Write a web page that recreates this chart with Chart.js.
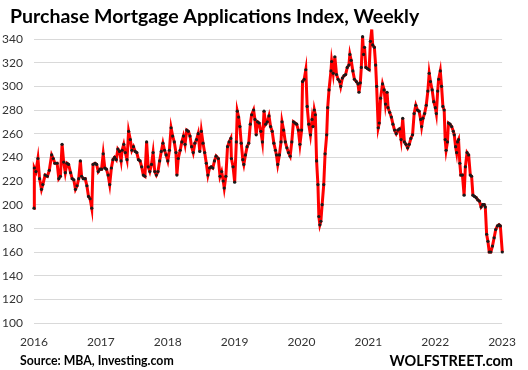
<!DOCTYPE html>
<html>
<head>
<meta charset="utf-8">
<script src="https://cdn.jsdelivr.net/npm/chart.js@4.4.1/dist/chart.umd.min.js"></script>
<style>
  html, body { margin: 0; padding: 0; background: #fff; }
</style>
</head>
<body>
<canvas id="mortgage" width="528" height="370"></canvas>
<script>
const title = "Purchase Mortgage Applications Index, Weekly";
const source = "Source: MBA, Investing.com";
const brand = "WOLFSTREET.com";
const yearTicks = [2016, 2017, 2018, 2019, 2020, 2021, 2022, 2023];
const indexTicks = [100, 120, 140, 160, 180, 200, 220, 240, 260, 280, 300, 320, 340];

// week dates as decimal years
const weeks = [
  2016.000, 2016.005, 2016.029, 2016.059, 2016.083, 2016.112, 2016.132, 2016.166, 2016.200, 2016.229,
  2016.264, 2016.288, 2016.312, 2016.346, 2016.371, 2016.395, 2016.420, 2016.444, 2016.468, 2016.493,
  2016.517, 2016.547, 2016.571, 2016.595, 2016.620, 2016.644, 2016.669, 2016.693, 2016.712, 2016.737,
  2016.766, 2016.791, 2016.815, 2016.839, 2016.864, 2016.883, 2016.913, 2016.937, 2016.961, 2016.986,
  2017.010, 2017.035, 2017.059, 2017.083, 2017.108, 2017.132, 2017.157, 2017.181, 2017.205, 2017.230,
  2017.254, 2017.279, 2017.303, 2017.318, 2017.342, 2017.366, 2017.391, 2017.415, 2017.440, 2017.464,
  2017.488, 2017.513, 2017.537, 2017.562, 2017.586, 2017.610, 2017.635, 2017.659, 2017.684, 2017.708,
  2017.732, 2017.757, 2017.781, 2017.806, 2017.830, 2017.854, 2017.879, 2017.903, 2017.928, 2017.952,
  2017.976, 2018.001, 2018.025, 2018.050, 2018.074, 2018.098, 2018.123, 2018.137, 2018.157, 2018.186,
  2018.211, 2018.235, 2018.259, 2018.284, 2018.308, 2018.333, 2018.357, 2018.381, 2018.406, 2018.430,
  2018.455, 2018.479, 2018.503, 2018.528, 2018.552, 2018.577, 2018.601, 2018.625, 2018.650, 2018.674,
  2018.699, 2018.723, 2018.757, 2018.782, 2018.806, 2018.830, 2018.845, 2018.869, 2018.894, 2018.918,
  2018.943, 2018.952, 2018.977, 2019.001, 2019.026, 2019.040, 2019.060, 2019.079, 2019.099, 2019.123,
  2019.138, 2019.162, 2019.187, 2019.211, 2019.235, 2019.255, 2019.284, 2019.304, 2019.323, 2019.343,
  2019.367, 2019.392, 2019.416, 2019.440, 2019.465, 2019.489, 2019.514, 2019.538, 2019.562, 2019.587,
  2019.611, 2019.626, 2019.645, 2019.670, 2019.694, 2019.709, 2019.733, 2019.758, 2019.782, 2019.806,
  2019.831, 2019.855, 2019.880, 2019.904, 2019.928, 2019.953, 2019.977, 2020.002, 2020.016, 2020.041,
  2020.065, 2020.085, 2020.109, 2020.134, 2020.158, 2020.172, 2020.192, 2020.207, 2020.226, 2020.246,
  2020.260, 2020.275, 2020.290, 2020.309, 2020.333, 2020.353, 2020.377, 2020.392, 2020.412, 2020.441,
  2020.451, 2020.475, 2020.499, 2020.524, 2020.548, 2020.573, 2020.587, 2020.612, 2020.636, 2020.660,
  2020.685, 2020.709, 2020.724, 2020.743, 2020.768, 2020.792, 2020.821, 2020.846, 2020.860, 2020.880,
  2020.895, 2020.914, 2020.929, 2020.943, 2020.963, 2020.987, 2021.012, 2021.031, 2021.051, 2021.065,
  2021.090, 2021.109, 2021.124, 2021.148, 2021.163, 2021.183, 2021.212, 2021.236, 2021.256, 2021.280,
  2021.295, 2021.319, 2021.344, 2021.368, 2021.392, 2021.417, 2021.441, 2021.466, 2021.490, 2021.514,
  2021.539, 2021.563, 2021.588, 2021.612, 2021.636, 2021.661, 2021.685, 2021.710, 2021.734, 2021.758,
  2021.783, 2021.797, 2021.817, 2021.841, 2021.866, 2021.890, 2021.910, 2021.929, 2021.954, 2021.978,
  2022.002, 2022.017, 2022.037, 2022.051, 2022.076, 2022.095, 2022.115, 2022.134, 2022.149, 2022.163,
  2022.183, 2022.198, 2022.222, 2022.246, 2022.271, 2022.285, 2022.305, 2022.320, 2022.334, 2022.349,
  2022.368, 2022.383, 2022.407, 2022.432, 2022.451, 2022.476, 2022.500, 2022.525, 2022.544, 2022.564,
  2022.588, 2022.612, 2022.637, 2022.661, 2022.686, 2022.710, 2022.734, 2022.749, 2022.769, 2022.788,
  2022.808, 2022.832, 2022.856, 2022.881, 2022.905, 2022.930, 2022.954, 2022.974, 2023.003, 2023.027
];

const purchaseIndex = [
  197, 231, 228, 239, 222, 213, 217, 225, 224, 229,
  242, 239, 235, 235, 222, 224, 251, 236, 227, 235,
  234, 227, 222, 221, 213, 216, 222, 237, 224, 222,
  222, 216, 207, 205, 197, 234, 235, 234, 228, 230,
  230, 243, 231, 230, 225, 217, 231, 238, 240, 238,
  247, 245, 237, 246, 251, 244, 238, 262, 255, 246,
  249, 245, 244, 238, 237, 232, 225, 224, 253, 232,
  228, 234, 244, 228, 225, 228, 237, 245, 252, 246,
  242, 237, 246, 265, 258, 253, 244, 225, 239, 246,
  253, 258, 251, 263, 262, 258, 249, 244, 252, 255,
  260, 245, 262, 252, 244, 235, 225, 231, 232, 231,
  237, 241, 239, 224, 228, 220, 214, 224, 249, 253,
  256, 239, 232, 219, 253, 279, 274, 266, 252, 238,
  234, 242, 249, 252, 268, 276, 280, 272, 259, 270,
  269, 262, 253, 279, 268, 270, 275, 266, 262, 252,
  246, 242, 234, 242, 253, 270, 263, 253, 248, 244,
  241, 253, 270, 269, 268, 263, 251, 263, 304, 306,
  314, 283, 268, 259, 272, 266, 280, 276, 237, 217,
  190, 183, 186, 200, 217, 243, 259, 282, 297, 313,
  321, 311, 325, 310, 306, 304, 300, 307, 309, 310,
  316, 318, 327, 322, 313, 306, 304, 302, 295, 303,
  316, 342, 327, 333, 316, 315, 314, 338, 348, 335,
  333, 318, 300, 265, 269, 290, 302, 297, 285, 295,
  282, 278, 274, 268, 263, 260, 263, 264, 255, 273,
  253, 251, 248, 251, 256, 259, 277, 284, 280, 279,
  272, 266, 273, 277, 284, 296, 311, 304, 297, 287,
  282, 277, 296, 306, 313, 300, 283, 280, 255, 246,
  253, 269, 268, 266, 262, 259, 249, 244, 253, 255,
  235, 225, 225, 208, 232, 244, 242, 225, 224, 208,
  207, 206, 204, 203, 198, 200, 200, 198, 175, 169,
  160, 160, 165, 172, 179, 182, 183, 182, 160, 159
];

const points = weeks.map((w, i) => ({ x: w, y: purchaseIndex[i] }));

const textPlugin = {
  id: "texts",
  afterDraw(chart) {
    const c = chart.ctx;
    c.save();
    c.fillStyle = "#000";
    c.textBaseline = "alphabetic";
    c.textAlign = "left";
    c.font = "bold 19.5px Lato";
    c.fillText(title, 10, 23);
    c.font = "bold 12.3px Lato";
    c.fillText(source, 20, 365);
    c.textAlign = "right";
    c.font = "bold 14.5px Lato";
    c.fillText(brand, 513, 366);
    c.restore();
  }
};

const tickFont = { family: "Lato", size: 12 };

new Chart(document.getElementById("mortgage"), {
  type: "line",
  data: {
    datasets: [{
      data: points,
      borderColor: "#ff0000",
      borderWidth: 3,
      tension: 0,
      pointRadius: 1.6,
      pointBackgroundColor: "#1a1a1a",
      pointBorderWidth: 0,
      clip: false
    }]
  },
  options: {
    responsive: false,
    animation: false,
    devicePixelRatio: 1,
    layout: { padding: { top: 39, right: 15, bottom: 17, left: 0 } },
    scales: {
      x: {
        type: "linear",
        min: 2016,
        max: 2023,
        afterBuildTicks: s => { s.ticks = yearTicks.map(v => ({ value: v })); },
        afterFit: s => { s.height = 30; },
        grid: { display: false, drawTicks: false },
        border: { display: false },
        ticks: {
          font: tickFont,
          color: "#333",
          padding: 12,
          maxRotation: 0,
          callback: v => String(v)
        }
      },
      y: {
        min: 100,
        max: 340,
        afterBuildTicks: s => { s.ticks = indexTicks.map(v => ({ value: v })); },
        afterFit: s => { s.width = 34; },
        grid: { color: "#d9d9d9", drawTicks: false },
        border: { display: false },
        ticks: { font: tickFont, color: "#333", padding: 11 }
      }
    },
    plugins: {
      legend: { display: false },
      tooltip: { enabled: false }
    }
  },
  plugins: [textPlugin]
});
</script>
</body>
</html>
